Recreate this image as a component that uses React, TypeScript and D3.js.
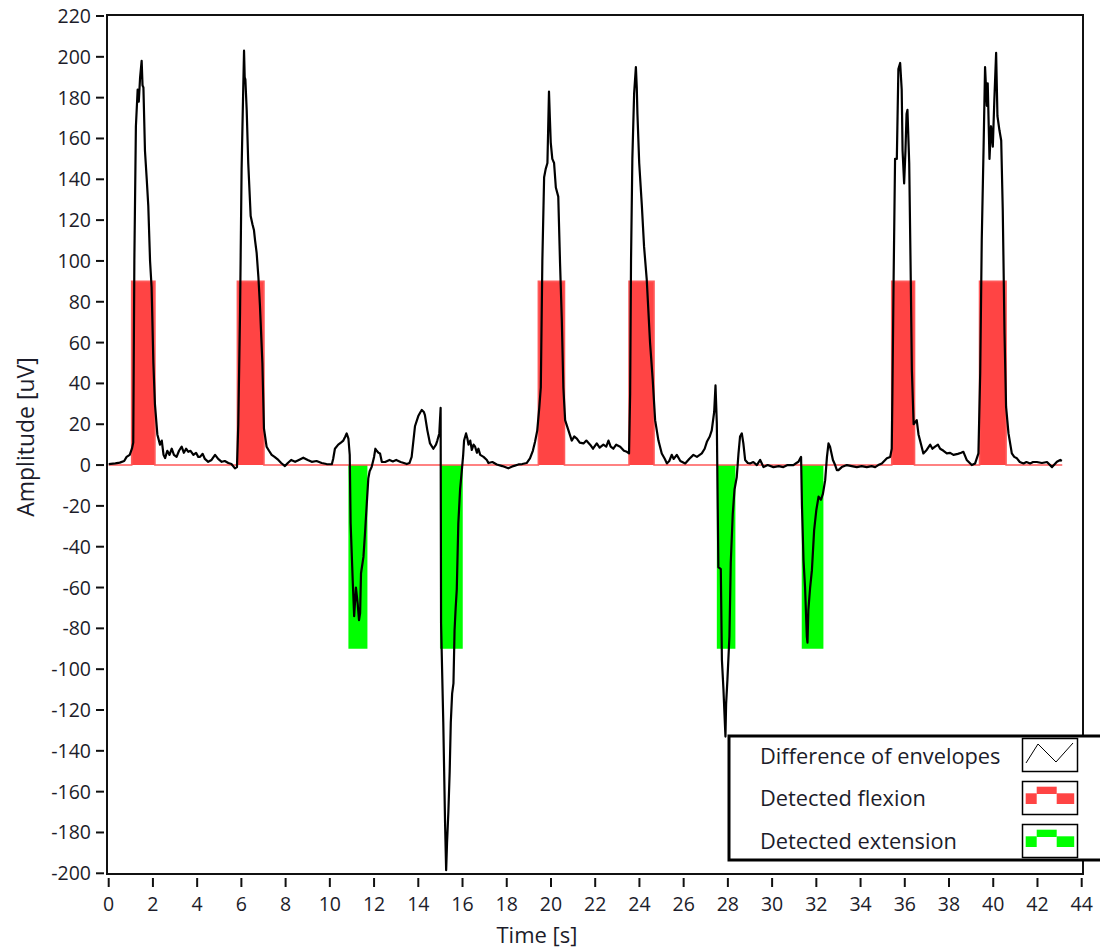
import React from 'react';
import * as d3 from 'd3';

// difference of the two EMG envelopes, [time s, amplitude uV]
const envelopeDiff: [number, number][] = [
  [0, 0.5], [0.3, 0.8], [0.5, 1.2], [0.7, 2], [0.81, 4], [0.95, 5], [1.05, 8], [1.11, 11],
  [1.16, 100], [1.23, 166], [1.31, 184], [1.36, 178], [1.42, 190], [1.49, 198], [1.53, 186],
  [1.57, 185], [1.64, 154], [1.72, 140], [1.79, 127], [1.87, 100], [1.94, 87], [2.02, 50],
  [2.09, 30], [2.2, 15], [2.32, 10], [2.4, 12], [2.48, 5], [2.55, 3.4], [2.65, 7], [2.75, 5],
  [2.85, 8], [2.95, 5], [3.07, 4], [3.18, 7], [3.3, 9], [3.4, 6], [3.5, 8], [3.6, 6.5],
  [3.7, 7], [3.83, 5], [3.95, 6], [4.05, 4], [4.13, 4], [4.25, 5.5], [4.35, 3], [4.5, 1.6],
  [4.65, 2.5], [4.81, 5], [4.95, 3], [5.11, 1.6], [5.25, 2], [5.41, 1], [5.55, 0.5],
  [5.71, -1.6], [5.8, -1], [5.86, 20], [5.94, 75], [6.01, 145], [6.06, 172], [6.12, 203],
  [6.15, 190], [6.18, 189], [6.24, 174], [6.31, 148], [6.42, 122], [6.5, 118], [6.57, 115],
  [6.62, 110], [6.69, 104], [6.77, 92], [6.84, 78], [6.95, 50], [7.02, 18], [7.14, 9],
  [7.25, 7], [7.37, 5], [7.5, 4], [7.67, 2.5], [7.8, 1], [7.97, -0.5], [8.1, 1], [8.25, 2.5],
  [8.43, 1.6], [8.6, 2.5], [8.8, 3.6], [9.0, 2.5], [9.18, 1.6], [9.4, 2], [9.63, 1],
  [9.85, 0.5], [10.09, 0.4], [10.15, 3], [10.23, 8], [10.38, 10], [10.5, 11], [10.61, 12],
  [10.7, 14], [10.76, 15.5], [10.84, 13], [10.9, 5], [10.94, -28.5], [11.04, -58],
  [11.1, -74], [11.18, -60], [11.26, -68], [11.32, -76], [11.37, -72.5], [11.41, -53],
  [11.52, -45], [11.59, -33.5], [11.67, -19], [11.74, -6.5], [11.8, -3], [11.89, -1],
  [12.0, 4], [12.06, 8], [12.12, 7], [12.2, 6], [12.27, 5.7], [12.35, 1.6], [12.5, 1.5],
  [12.7, 2.5], [12.85, 1.8], [13.0, 2.5], [13.2, 1.5], [13.35, 1], [13.48, 0.5], [13.6, 1],
  [13.7, 4], [13.85, 19], [14.0, 24], [14.1, 26], [14.16, 27], [14.25, 26], [14.3, 24.5],
  [14.41, 17], [14.53, 10.6], [14.68, 8], [14.8, 10], [14.86, 12], [14.95, 15.5],
  [15.01, 28], [15.03, -77.5], [15.13, -126], [15.21, -175], [15.26, -198.5], [15.3, -185],
  [15.36, -170], [15.42, -150], [15.47, -126], [15.53, -112], [15.59, -107], [15.64, -81],
  [15.69, -70], [15.74, -61], [15.81, -28.6], [15.89, -12], [15.97, -2.5], [16.03, 5],
  [16.07, 12], [16.16, 15.5], [16.22, 13], [16.27, 10], [16.35, 12], [16.42, 7.4],
  [16.5, 10], [16.57, 9], [16.65, 6], [16.72, 8], [16.8, 5], [16.95, 4], [17.1, 2.5],
  [17.17, 1], [17.35, 1.5], [17.55, 0.3], [17.8, -0.5], [18.07, -1.6], [18.3, -0.5],
  [18.53, 0.3], [18.7, 0.5], [18.9, 1], [19.05, 3.3], [19.18, 7], [19.28, 11.4],
  [19.38, 17], [19.47, 28], [19.54, 38], [19.61, 100], [19.69, 141], [19.76, 145],
  [19.84, 148], [19.91, 183], [19.95, 170], [19.99, 158], [20.06, 150], [20.14, 148],
  [20.22, 136], [20.33, 131.5], [20.41, 99], [20.49, 71], [20.56, 38], [20.64, 22],
  [20.79, 17], [20.94, 12], [21.05, 14], [21.17, 13], [21.3, 11], [21.47, 10.6], [21.6, 12],
  [21.77, 10], [21.9, 8], [22.07, 10.6], [22.2, 8.5], [22.37, 10], [22.5, 9], [22.6, 12],
  [22.7, 9], [22.82, 8], [22.95, 10], [23.13, 9], [23.3, 7], [23.43, 6.5], [23.53, 5.7],
  [23.58, 35], [23.62, 100], [23.68, 150], [23.76, 182], [23.84, 195], [23.88, 185],
  [23.91, 172], [23.99, 148], [24.11, 127], [24.21, 107], [24.33, 91], [24.48, 60],
  [24.6, 42], [24.71, 22], [24.86, 12], [25.01, 5.7], [25.15, 3], [25.24, 0.8], [25.35, 2],
  [25.46, 5], [25.55, 3], [25.69, 5], [25.85, 2], [26.07, 0.8], [26.25, 3], [26.44, 5],
  [26.6, 4], [26.82, 5.7], [26.95, 8], [27.05, 11.4], [27.18, 14], [27.27, 17], [27.38, 26],
  [27.44, 39], [27.5, 20.5], [27.57, -50], [27.68, -51], [27.73, -95.5], [27.8, -110],
  [27.87, -128], [27.89, -133], [27.92, -117], [27.98, -105], [28.07, -84], [28.13, -48],
  [28.22, -24], [28.3, -12], [28.4, -6], [28.48, 5.7], [28.55, 14], [28.63, 15.5],
  [28.7, 10.6], [28.78, 2.5], [28.9, 1], [29.0, 0.8], [29.15, 1.5], [29.31, 0], [29.46, 2.5],
  [29.61, -1], [29.8, 0], [30.06, -1], [30.3, -0.5], [30.51, -1], [30.7, 0], [30.96, 0],
  [31.1, 1], [31.19, 1.6], [31.31, 4], [31.35, -20], [31.42, -46.5], [31.49, -60],
  [31.57, -84], [31.6, -87], [31.64, -71], [31.72, -60], [31.8, -51.5], [31.9, -32],
  [32.0, -22], [32.1, -15.5], [32.21, -17], [32.3, -14], [32.4, -7.4], [32.48, 4],
  [32.55, 10.6], [32.62, 9], [32.75, 2.5], [32.85, 0], [32.93, -2.5], [33.0, -2.5],
  [33.15, -1], [33.38, 0], [33.6, -0.5], [33.83, -1], [34.05, -0.5], [34.28, -1],
  [34.5, -0.5], [34.66, -1], [34.8, 0], [34.96, 0.8], [35.19, 3.3], [35.34, 4], [35.41, 8],
  [35.44, 35], [35.49, 87], [35.56, 150], [35.64, 150], [35.71, 194], [35.79, 197],
  [35.86, 184], [35.9, 154], [35.97, 138], [36.03, 154], [36.08, 172], [36.12, 174],
  [36.2, 148], [36.27, 91], [36.32, 46.5], [36.4, 20], [36.54, 22], [36.62, 15],
  [36.69, 12], [36.84, 5.7], [36.99, 7.4], [37.15, 10], [37.25, 8], [37.37, 9], [37.5, 10],
  [37.6, 8], [37.75, 7], [37.9, 5.7], [38.05, 6], [38.2, 5], [38.4, 5.5], [38.55, 6],
  [38.65, 6.5], [38.8, 2.5], [39.03, 0], [39.18, 0.8], [39.33, 5.7], [39.41, 45],
  [39.48, 110], [39.56, 154], [39.63, 195], [39.71, 176], [39.75, 187], [39.83, 150],
  [39.9, 166], [39.98, 156], [40.05, 179], [40.13, 202], [40.19, 171], [40.28, 164],
  [40.36, 159], [40.43, 125], [40.51, 64.5], [40.58, 28.6], [40.69, 15.5], [40.84, 5.7],
  [40.95, 4], [41.07, 3.3], [41.2, 1.5], [41.37, 0.8], [41.5, 1.5], [41.67, 0.8],
  [41.8, 1.5], [41.97, 1.5], [42.2, 1], [42.43, 1.5], [42.66, -1], [42.88, 1.6],
  [43.03, 2.5], [43.1, 2],
];

// detection windows [start, end] in seconds
const flexionWindows: [number, number][] = [
  [1.04, 2.09], [5.82, 7.02], [19.43, 20.61], [23.53, 24.66], [35.41, 36.44], [39.38, 40.58],
];
const extensionWindows: [number, number][] = [
  [10.84, 11.7], [14.98, 16.01], [27.5, 28.34], [31.34, 32.32],
];
const FLEXION_LEVEL = 90;
const EXTENSION_LEVEL = -90;
const DETECT_END = 43.12;

const xTicks = d3.range(0, 45, 2);
const yTicks = d3.range(-200, 221, 20);

const legendItems = ['Difference of envelopes', 'Detected flexion', 'Detected extension'];

const RED = '#ff4444';
const GREEN = '#00ff00';
const FONT = '"Open Sans", "Noto Sans", sans-serif';
const INK = '#1c1c2a';

// turn detection windows into a 0 / level step signal
function stepSignal(windows: [number, number][], level: number): [number, number][] {
  const pts: [number, number][] = [[0, 0]];
  windows.forEach(([a, b]) => {
    pts.push([a, 0], [a, level], [b, level], [b, 0]);
  });
  pts.push([DETECT_END, 0]);
  return pts;
}

export default function App() {
  const x = d3.scaleLinear().domain([0, 44]).range([108.7, 1081.7]);
  const y = d3.scaleLinear().domain([-200, 220]).range([873.3, 16]);

  const line = d3.line<[number, number]>().x(d => x(d[0])).y(d => y(d[1]));
  const area = d3.area<[number, number]>().x(d => x(d[0])).y0(y(0)).y1(d => y(d[1]));

  const flex = stepSignal(flexionWindows, FLEXION_LEVEL);
  const ext = stepSignal(extensionWindows, EXTENSION_LEVEL);

  const lx = 729, ly = 736, lh = 124;

  return (
    <svg width={1100} height={951} style={{ position: 'absolute', left: 0, top: 0, background: '#fff' }}
      fontFamily={FONT}>
      {/* extension / flexion step plots */}
      <path d={area(ext) || ''} fill={GREEN} stroke="none" />
      <path d={area(flex) || ''} fill={RED} stroke="none" />
      <path d={line(flex) || ''} fill="none" stroke="#ff5a5a" strokeWidth={1.6} />

      {/* envelope difference */}
      <path d={line(envelopeDiff) || ''} fill="none" stroke="#000" strokeWidth={2.2} strokeLinejoin="round" />

      {/* frame */}
      <rect x={107} y={15} width={976} height={859} fill="none" stroke="#111" strokeWidth={2} />

      {/* y axis */}
      {yTicks.map(t => (
        <g key={'y' + t}>
          <line x1={96} x2={104} y1={y(t)} y2={y(t)} stroke="#111" strokeWidth={2} />
          <text x={91} y={y(t)} dy="0.36em" textAnchor="end" fontSize={19.5} fill={INK}>{t}</text>
        </g>
      ))}
      {/* x axis */}
      {xTicks.map(t => (
        <g key={'x' + t}>
          <line x1={x(t)} x2={x(t)} y1={878} y2={887} stroke="#111" strokeWidth={2} />
          <text x={x(t)} y={911} textAnchor="middle" fontSize={19.5} fill={INK}>{t}</text>
        </g>
      ))}

      <text x={537} y={943} textAnchor="middle" fontSize={22} fill={INK}>Time [s]</text>
      <text transform="translate(34,437) rotate(-90)" textAnchor="middle" fontSize={23} fill={INK}>
        Amplitude [uV]
      </text>

      {/* legend */}
      <rect x={lx} y={ly} width={420} height={lh} fill="#fff" stroke="#000" strokeWidth={3} />
      {legendItems.map((name, i) => {
        const top = 738.5 + i * 43;
        return (
          <g key={name}>
            <text x={760} y={763.5 + i * 42.5} fontSize={21.8} fill={INK}>{name}</text>
            <rect x={1022.5} y={top} width={55} height={33} fill="#fff" stroke="#000" strokeWidth={1.5} />
          </g>
        );
      })}
      <polyline points="1026,763 1038,744 1056,762 1073,743" fill="none" stroke="#000" strokeWidth={1} />
      {[[RED, 0], [GREEN, 43]].map(([c, dy]) => (
        <g key={c as string} fill={c as string}>
          <rect x={1025.7} y={793.3 + (dy as number)} width={11} height={10.7} />
          <rect x={1036.7} y={786.7 + (dy as number)} width={20} height={7.3} />
          <rect x={1056.7} y={793.3 + (dy as number)} width={17.5} height={10.7} />
        </g>
      ))}
    </svg>
  );
}
